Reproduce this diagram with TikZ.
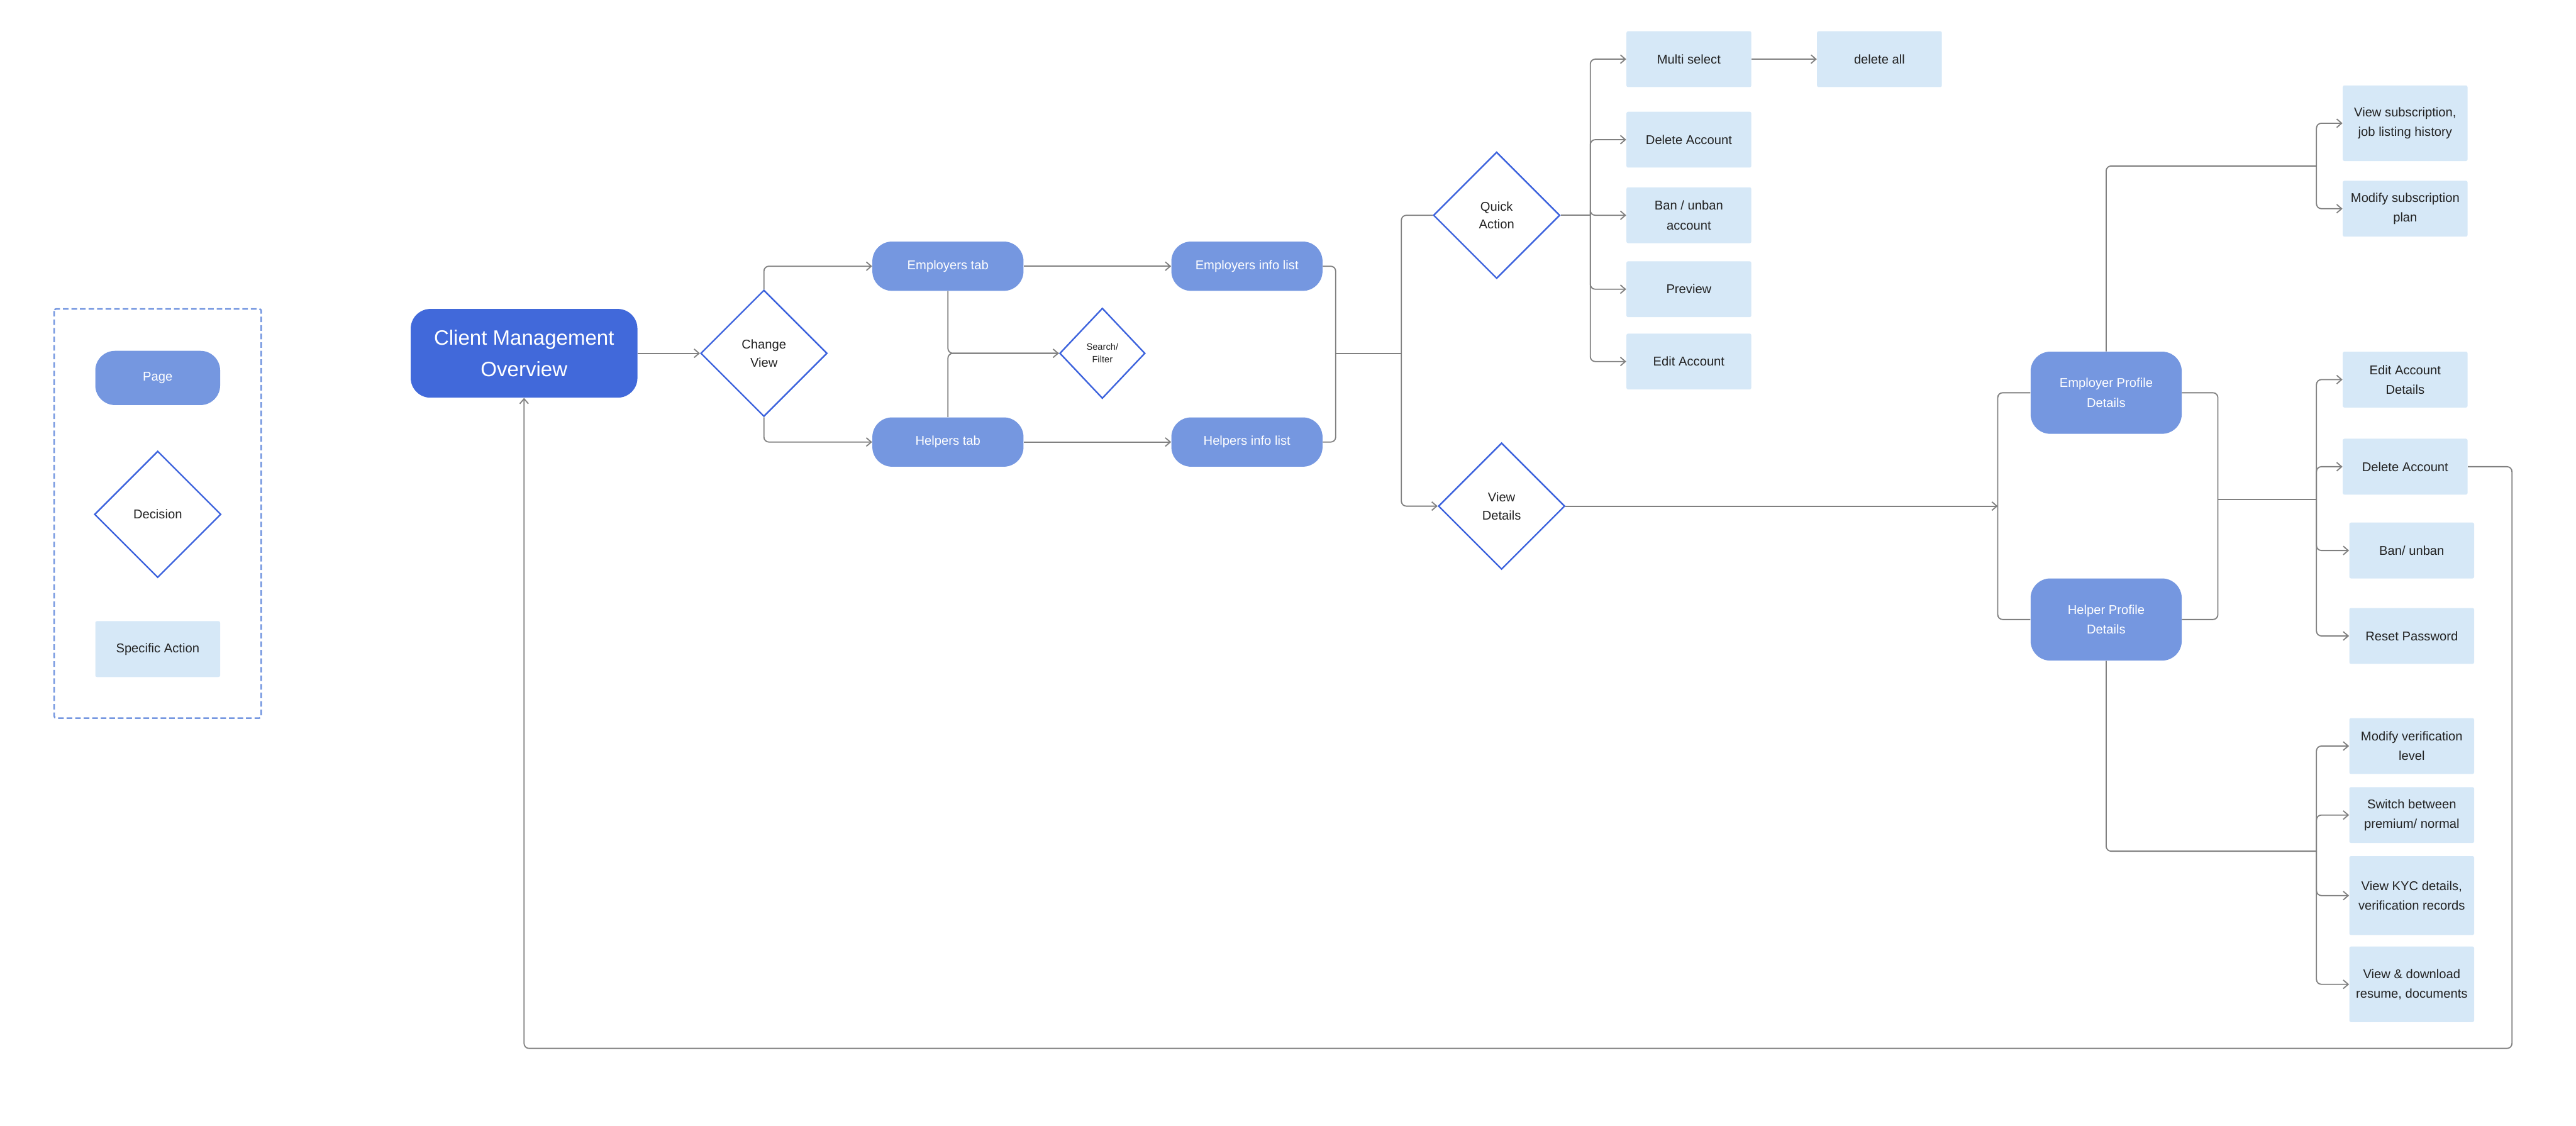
\documentclass[tikz,border=0pt]{standalone}
\usepackage{fontspec}
\setmainfont{Liberation Sans}
\usetikzlibrary{shapes.geometric,arrows.meta}
\definecolor{pageblue}{RGB}{117,151,224}
\definecolor{mainblue}{RGB}{65,105,218}
\definecolor{actionblue}{RGB}{214,232,247}
\definecolor{edgeblue}{RGB}{61,99,221}
\definecolor{linegray}{RGB}{128,128,128}
\definecolor{txt}{RGB}{34,34,34}
\begin{document}
\begin{tikzpicture}[x=0.5mm,y=-0.5mm,
        >={Straight Barb[length=1.5mm,width=2.6mm]},
        pagebox/.style={fill=pageblue,rounded corners=6mm,text=white,minimum width=46mm,minimum height=15mm,align=center,font=\fontsize{11}{17}\selectfont},
        mainbox/.style={fill=mainblue,rounded corners=6mm,text=white,minimum width=69mm,minimum height=27mm,align=center,font=\fontsize{18}{27}\selectfont},
        decisionbox/.style={diamond,draw=edgeblue,line width=1.3pt,fill=white,minimum width=38.5mm,minimum height=38.5mm,inner sep=0pt,align=center,text=txt,font=\fontsize{11}{15.6}\selectfont},
        actionbox/.style={fill=actionblue,rounded corners=0.5mm,minimum width=38mm,minimum height=17mm,inner sep=0.5mm,align=center,text=txt,font=\fontsize{11}{17}\selectfont},
        link/.style={draw=linegray,line width=1pt,rounded corners=1.5mm}]
    \useasboundingbox (0,0) rectangle (1568,685);
    \draw [pageblue,line width=1.4pt,dash pattern=on 1.7mm off 0.9mm,rounded corners=0.6mm] (33,188) rectangle (159,437);
    \node [pagebox,minimum width=38mm,minimum height=16.5mm] (lpage) at (96,230) {Page};
    \node [decisionbox] (ldec) at (96,313) {Decision};
    \node [actionbox] (lact) at (96,395) {Specific Action};

    \node [mainbox] (cmo) at (319,215) {Client Management\\Overview};
    \node [decisionbox] (cv) at (465,215) {Change\\View};
    \node [pagebox] (emptab) at (577,162) {Employers tab};
    \node [pagebox] (helptab) at (577,269) {Helpers tab};
    \node [decisionbox,minimum width=26mm,minimum height=27.5mm,font=\fontsize{8}{11}\selectfont] (sf) at (671,215) {Search/\\Filter};
    \node [pagebox] (empinfo) at (759,162) {Employers info list};
    \node [pagebox] (helpinfo) at (759,269) {Helpers info list};
    \node [decisionbox] (qa) at (911,131) {Quick\\Action};
    \node [decisionbox] (vd) at (914,308) {View\\Details};

    \node [actionbox] (multi) at (1028,36) {Multi select};
    \node [actionbox] (delall) at (1144,36) {delete all};
    \node [actionbox] (qdel) at (1028,85) {Delete Account};
    \node [actionbox] (qban) at (1028,131) {Ban / unban\\account};
    \node [actionbox] (qprev) at (1028,176) {Preview};
    \node [actionbox] (qedit) at (1028,220) {Edit Account};

    \node [pagebox,minimum height=25mm] (epd) at (1282,239) {Employer Profile\\Details};
    \node [pagebox,minimum height=25mm] (hpd) at (1282,377) {Helper Profile\\Details};

    \node [actionbox,minimum height=23mm] (vsub) at (1464,75) {View subscription,\\job listing history};
    \node [actionbox] (msub) at (1464,127) {Modify subscription\\plan};
    \node [actionbox] (pedit) at (1464,231) {Edit Account\\Details};
    \node [actionbox] (pdel) at (1464,284) {Delete Account};
    \node [actionbox] (pban) at (1468,335) {Ban/ unban};
    \node [actionbox] (preset) at (1468,387) {Reset Password};
    \node [actionbox] (verif) at (1468,454) {Modify verification\\level};
    \node [actionbox] (prem) at (1468,496) {Switch between\\premium/ normal};
    \node [actionbox,minimum height=24mm] (kyc) at (1468,545) {View KYC details,\\verification records};
    \node [actionbox,minimum height=23mm] (docs) at (1468,599) {View \& download\\resume, documents};

    \draw [link,->] (cmo) -- (cv);
    \draw [link,->] (cv.north) |- (emptab);
    \draw [link,->] (cv.south) |- (helptab);
    \draw [link,->] (emptab.south) |- (sf.west);
    \draw [link] (helptab.north) |- (sf.west);
    \draw [link,->] (emptab) -- (empinfo);
    \draw [link,->] (helptab) -- (helpinfo);
    \coordinate (lists) at (813,215);
    \coordinate (views) at (853,215);
    \draw [link] (empinfo.east) -| (lists) |- (helpinfo.east);
    \draw [link] (lists) -- (views);
    \draw [link,->] (qa.west) -| (views) |- (vd.west);

    \coordinate (quick) at (968,131);
    \draw [link] (qa.east) -- (quick);
    \foreach \n in {multi,qdel,qban,qprev,qedit}
        \draw [link,->] (quick) |- (\n.west);
    \draw [link,->] (multi) -- (delall);

    \coordinate (profiles) at (1216,308);
    \draw [link,->] (vd.east) -- (profiles);
    \draw [link] (epd.west) -| (profiles) |- (hpd.west);

    \coordinate (subs) at (1410,101);
    \draw [link] (epd.north) |- (subs);
    \foreach \n in {vsub,msub}
        \draw [link,->] (subs) |- (\n.west);

    \coordinate (both) at (1350,304);
    \coordinate (acct) at (1410,304);
    \draw [link] (epd.east) -| (both) |- (hpd.east);
    \draw [link] (both) -- (acct);
    \foreach \n in {pedit,pdel,pban,preset}
        \draw [link,->] (acct) |- (\n.west);

    \coordinate (helper) at (1410,518);
    \draw [link] (hpd.south) |- (helper);
    \foreach \n in {verif,prem,kyc,docs}
        \draw [link,->] (helper) |- (\n.west);

    \coordinate (back) at (1529,638);
    \draw [link,->] (pdel.east) -| (back) -| (cmo.south);
\end{tikzpicture}
\end{document}
